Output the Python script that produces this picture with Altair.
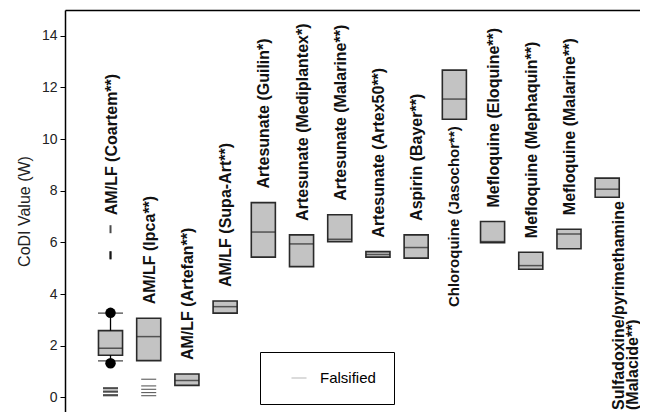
import altair as alt
import pandas as pd

drugs = [
    "AM/LF (Coartem**)", "AM/LF (Ipca**)", "AM/LF (Artefan**)", "AM/LF (Supa-Art**)",
    "Artesunate (Guilin*)", "Artesunate (Mediplantex*)", "Artesunate (Malarine**)",
    "Artesunate (Artex50**)", "Aspirin (Bayer**)", "Chloroquine (Jasochor**)",
    "Mefloquine (Eloquine**)", "Mefloquine (Mephaquin**)", "Mefloquine (Malarine**)",
    "Sulfadoxine/pyrimethamine (Malacide**)",
]
q1 = [1.63, 1.42, 0.46, 3.26, 5.43, 5.06, 6.03, 5.43, 5.39, 10.77, 5.99, 4.96, 5.75, 7.75]
median = [1.90, 2.35, 0.65, 3.51, 6.40, 5.94, 6.12, 5.53, 5.80, 11.55, 6.03, 5.10, 6.32, 8.06]
q3 = [2.58, 3.06, 0.90, 3.73, 7.54, 6.29, 7.07, 5.64, 6.29, 12.67, 6.81, 5.62, 6.51, 8.49]
label_side = ["above"] * 9 + ["below"] + ["above"] * 3 + ["bottom"]

whisker_drug = ["AM/LF (Coartem**)"]
whisker_low = [1.41]
whisker_high = [3.26]

outlier_drug = ["AM/LF (Coartem**)", "AM/LF (Coartem**)"]
outlier_val = [3.27, 1.32]

fals_drug = ["AM/LF (Coartem**)"] * 3 + ["AM/LF (Ipca**)"] * 5
fals_val = [0.35, 0.22, 0.08, 0.70, 0.44, 0.31, 0.18, 0.06]
fals_weight = [2.2, 2.2, 2.2, 1.0, 1.0, 1.0, 1.0, 1.0]

fals_up_drug = ["AM/LF (Coartem**)"] * 3
fals_up_val = [6.51, 5.50, 5.50]
fals_up_side = ["right", "left", "right"]

boxes = pd.DataFrame({"drug": drugs, "q1": q1, "median": median, "q3": q3, "side": label_side})
whisk = pd.DataFrame({"drug": whisker_drug, "lo": whisker_low, "hi": whisker_high})
outl = pd.DataFrame({"drug": outlier_drug, "v": outlier_val})
fals = pd.DataFrame({"drug": fals_drug, "v": fals_val, "w": fals_weight, "kind": "Falsified"})
fals_up = pd.DataFrame({"drug": fals_up_drug, "v": fals_up_val, "side": fals_up_side})

# label anchor: highest element of each category
tops = dict(zip(drugs, q3))
for d, v in zip(whisker_drug, whisker_high):
    tops[d] = max(tops[d], v)
for d, v in zip(fals_drug + fals_up_drug, fals_val + fals_up_val):
    tops[d] = max(tops[d], v)
boxes["top"] = boxes["drug"].map(tops)

FONT = "Liberation Sans"
xscale = alt.Scale(paddingInner=0.37, paddingOuter=0.71, align=0.617)
xaxis = alt.Axis(orient="top", labels=False, ticks=False, domain=True, title=None,
                 domainColor="black", domainWidth=1.5, grid=False)


def X():
    return alt.X("drug:N", sort=drugs, scale=xscale, axis=xaxis)


yscale = alt.Scale(domain=[-0.57, 15], nice=False, zero=False)
yaxis = alt.Axis(title="CoDI Value (W)", values=list(range(0, 15, 2)), grid=False,
                 tickSize=5, tickColor="black", domainColor="black", domainWidth=1.5,
                 labelFont=FONT, labelFontSize=14, labelColor="#222", labelPadding=3,
                 titleFont=FONT, titleFontSize=16, titleFontWeight="normal",
                 titleColor="#222", titlePadding=9)

box = alt.Chart(boxes).mark_bar(fill="#c3c3c3", stroke="#2a2a2a", strokeWidth=1.6).encode(
    x=X(), y=alt.Y("q1:Q", scale=yscale, axis=yaxis), y2="q3:Q")
med = alt.Chart(boxes).mark_tick(size=24, thickness=1.5, color="#222").encode(
    x=X(), y=alt.Y("median:Q", scale=yscale))

wr_hi = alt.Chart(boxes.merge(whisk)).mark_rule(color="black", strokeWidth=1.3).encode(
    x=X(), y=alt.Y("q3:Q", scale=yscale), y2="hi:Q")
wr_lo = alt.Chart(boxes.merge(whisk)).mark_rule(color="black", strokeWidth=1.3).encode(
    x=X(), y=alt.Y("lo:Q", scale=yscale), y2="q1:Q")
cap_hi = alt.Chart(whisk).mark_tick(size=25, thickness=1.3, color="black").encode(
    x=X(), y=alt.Y("hi:Q", scale=yscale))
cap_lo = alt.Chart(whisk).mark_tick(size=25, thickness=1.3, color="black").encode(
    x=X(), y=alt.Y("lo:Q", scale=yscale))
dots = alt.Chart(outl).mark_circle(size=110, color="black", opacity=1).encode(
    x=X(), y=alt.Y("v:Q", scale=yscale))

fals_layer = alt.Chart(fals).mark_point(filled=False, size=225, color="black").encode(
    x=X(), y=alt.Y("v:Q", scale=yscale),
    strokeWidth=alt.StrokeWidth("w:Q", scale=None, legend=None),
    shape=alt.Shape("kind:N", scale=alt.Scale(range=["stroke"]),
                    legend=alt.Legend(title=None, orient="none", legendX=195, legendY=342,
                                      strokeColor="black", padding=18, symbolOffset=13,
                                      labelOffset=13, symbolSize=225,
                                      symbolStrokeColor="#999", symbolStrokeWidth=1,
                                      labelFont=FONT, labelFontSize=15, labelColor="black")))
fals_up_l = alt.Chart(fals_up).transform_filter("datum.side == 'left'").mark_point(
    shape="stroke", angle=90, size=64, strokeWidth=2, color="black", dx=-3).encode(
    x=X(), y=alt.Y("v:Q", scale=yscale))
fals_up_r = alt.Chart(fals_up).transform_filter("datum.side == 'right'").mark_point(
    shape="stroke", angle=90, size=64, strokeWidth=2, color="black", dx=3).encode(
    x=X(), y=alt.Y("v:Q", scale=yscale))

txt = dict(angle=270, baseline="middle", font=FONT, fontWeight="bold", color="#111")
lab_above = alt.Chart(boxes).transform_filter("datum.side == 'above'").mark_text(
    align="left", dx=14, dy=1, fontSize=16, **txt).encode(
    x=X(), y=alt.Y("top:Q", scale=yscale), text="drug:N")
lab_below = alt.Chart(boxes).transform_filter("datum.side == 'below'").mark_text(
    align="right", dx=-7, dy=0, fontSize=15, **txt).encode(
    x=X(), y=alt.Y("q1:Q", scale=yscale), text="drug:N")
lab_bottom = alt.Chart(boxes).transform_filter("datum.side == 'bottom'").mark_text(
    align="left", dx=0, dy=12, lineHeight=14, fontSize=16, **txt).encode(
    x=X(), y=alt.value(400),
    text=alt.value(["Sulfadoxine/pyrimethamine", "(Malacide**)"]))

chart = alt.layer(
    box, wr_hi, wr_lo, cap_hi, cap_lo, med, dots, fals_layer, fals_up_l,
    fals_up_r, lab_above, lab_below, lab_bottom).properties(
    width=575, height=402,
    autosize=alt.AutoSizeParams(type="none"),
    padding={"left": 57, "top": 2, "right": 0, "bottom": 0},
).configure_view(stroke=None)

chart.save("out.html", embed_options={"renderer": "svg", "actions": False})
